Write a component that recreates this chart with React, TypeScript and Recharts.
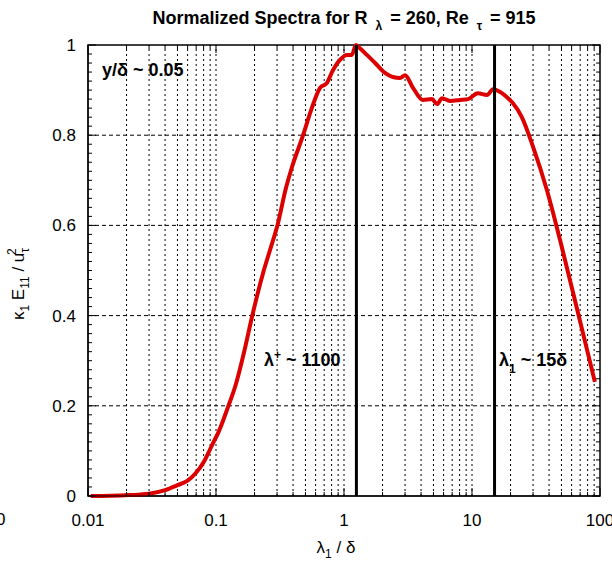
import { LineChart, Line, XAxis, YAxis, ReferenceLine, ReferenceArea } from 'recharts';

// wavelength lambda_1 / delta
const lambdaX = [
  0.0105, 0.015, 0.021, 0.03, 0.04, 0.05, 0.06, 0.069, 0.08, 0.087, 0.095, 0.104, 0.124, 0.142,
  0.166, 0.191, 0.233, 0.264, 0.305, 0.35, 0.393, 0.479, 0.56, 0.65, 0.736, 0.806, 0.93, 1.055,
  1.15, 1.24, 1.29, 1.51, 1.75, 2.09, 2.41, 2.74, 3.0, 3.46, 4.14, 4.87, 5.33, 5.83, 6.73, 8.06,
  9.31, 11.1, 13.1, 14.6, 16.6, 19.8, 20.9, 24.5, 30.0, 38.5, 48.7, 61.7, 91.2
];

// normalized premultiplied spectrum k1 E11 / u_tau^2
const spectrum = [
  0.0, 0.0005, 0.002, 0.005, 0.013, 0.024, 0.034, 0.05, 0.075, 0.095, 0.118, 0.14, 0.197, 0.245,
  0.32, 0.397, 0.494, 0.545, 0.605, 0.68, 0.73, 0.8, 0.86, 0.905, 0.916, 0.94, 0.967, 0.978,
  0.978, 1.0, 0.996, 0.978, 0.96, 0.938, 0.929, 0.927, 0.933, 0.905, 0.878, 0.88, 0.869, 0.882,
  0.876, 0.878, 0.88, 0.893, 0.889, 0.902, 0.896, 0.878, 0.871, 0.84, 0.774, 0.678, 0.568, 0.45,
  0.253
];

const xTicks = [0.01, 0.1, 1, 10, 100];
const xMinorTicks = [
  0.02, 0.03, 0.04, 0.05, 0.06, 0.07, 0.08, 0.09,
  0.2, 0.3, 0.4, 0.5, 0.6, 0.7, 0.8, 0.9,
  2, 3, 4, 5, 6, 7, 8, 9,
  20, 30, 40, 50, 60, 70, 80, 90
];
const yTicks = [0, 0.2, 0.4, 0.6, 0.8, 1];
const yMinorTicks = Array.from({ length: 51 }, (_, i) => +(i * 0.02).toFixed(2));
const markers = [1.25, 15];

const data = lambdaX.map((x, i) => ({ x, e: spectrum[i] }));

const FONT = '"Liberation Sans", Arial, sans-serif';
const PLOT_H = 451;
const PLOT_W = 512;
const X_MARGIN = 18;
const Y_MARGIN = 12;

// bottom axis tick: label for decades, inward tick marks at bottom and top of the frame
function XTick(props: any) {
  const { x, y, payload } = props;
  const v = payload.value;
  const major = xTicks.includes(v);
  const len = major ? 8 : 4;
  const axisY = y - X_MARGIN;
  return (
    <g>
      <line x1={x} x2={x} y1={axisY} y2={axisY - len} stroke="#000" />
      <line x1={x} x2={x} y1={axisY - PLOT_H} y2={axisY - PLOT_H + len} stroke="#000" />
      {major && (
        <text x={x} y={y} dy="0.71em" textAnchor="middle" fill="#000" fontSize={17} fontFamily={FONT}>
          {String(v)}
        </text>
      )}
    </g>
  );
}

// left axis tick: label at major values, inward marks on both sides
function YTick(props: any) {
  const { x, y, payload } = props;
  const v = payload.value;
  const major = yTicks.includes(v);
  const len = major ? 8 : 4;
  const axisX = x + Y_MARGIN;
  return (
    <g>
      <line x1={axisX} x2={axisX + len} y1={y} y2={y} stroke="#000" />
      <line x1={axisX + PLOT_W} x2={axisX + PLOT_W - len} y1={y} y2={y} stroke="#000" />
      {major && (
        <text x={x} y={y} dy="0.355em" textAnchor="end" fill="#000" fontSize={17} fontFamily={FONT}>
          {String(v)}
        </text>
      )}
    </g>
  );
}

export default function App() {
  return (
    <div style={{ position: 'absolute', left: 0, top: 0, width: 612, height: 561, background: '#fff' }}>
      <LineChart
        width={612}
        height={561}
        data={data}
        margin={{ top: 45, right: 12, left: 28, bottom: 35 }}
      >
        <XAxis
          dataKey="x"
          type="number"
          scale="log"
          domain={[0.01, 100]}
          allowDataOverflow
          ticks={[...xTicks, ...xMinorTicks]}
          interval={0}
          height={30}
          stroke="#000"
          tickLine={false}
          tickSize={0}
          tickMargin={X_MARGIN}
          tick={<XTick />}
        />
        <YAxis
          type="number"
          domain={[0, 1]}
          ticks={yMinorTicks}
          interval={0}
          width={60}
          stroke="#000"
          tickLine={false}
          tickSize={0}
          tickMargin={Y_MARGIN}
          tick={<YTick />}
        />

        {yTicks.slice(1, -1).map((v) => (
          <ReferenceLine key={'h' + v} y={v} stroke="#000" strokeDasharray="4 3" strokeWidth={1} />
        ))}
        {[...xMinorTicks, 0.1, 1, 10].map((v) => (
          <ReferenceLine key={'v' + v} x={v} stroke="#000" strokeDasharray="2 3" strokeWidth={1} />
        ))}

        {/* frame */}
        <ReferenceArea x1={0.01} x2={100} y1={0} y2={1} ifOverflow="visible" fill="none" fillOpacity={0} stroke="#000" strokeWidth={1.5} />

        <Line
          dataKey="e"
          type="monotone"
          stroke="#dd0000"
          strokeWidth={4}
          dot={false}
          isAnimationActive={false}
        />

        {markers.map((v) => (
          <ReferenceLine key={'m' + v} x={v} stroke="#000" strokeWidth={3} />
        ))}
      </LineChart>

      <svg
        width={612}
        height={561}
        style={{ position: 'absolute', left: 0, top: 0, pointerEvents: 'none' }}
        fontFamily={FONT}
      >
        <text x={344} y={24} textAnchor="middle" fontSize={18} fontWeight="bold" fill="#000">
          Normalized Spectra for R
          <tspan dx={8} dy={6} fontSize={12}>λ</tspan>
          <tspan dx={8} dy={-6}>= 260, Re</tspan>
          <tspan dx={8} dy={6} fontSize={12}>τ</tspan>
          <tspan dx={8} dy={-6}>= 915</tspan>
        </text>

        <text x={102} y={76} fontSize={18} fontWeight="bold" fill="#000">y/δ ~ 0.05</text>

        <text x={264} y={366} fontSize={18} fontWeight="bold" fill="#000">
          λ<tspan dy={-7} fontSize={12}>+</tspan>
          <tspan dy={7}> ~ 1100</tspan>
        </text>

        <text x={499} y={366} fontSize={18} fontWeight="bold" fill="#000">
          λ<tspan dy={7} fontSize={12}>1</tspan>
          <tspan dy={-7}> ~ 15δ</tspan>
        </text>

        <text x={-4} y={525} fontSize={17} fill="#000">0</text>

        <text x={336} y={553} textAnchor="middle" fontSize={17} fill="#000">
          λ<tspan dy={5} fontSize={12}>1</tspan>
          <tspan dy={-5}> / δ</tspan>
        </text>

        <text transform="translate(24,284) rotate(-90)" textAnchor="middle" fontSize={17} fill="#000">
          κ<tspan dy={5} fontSize={12}>1</tspan>
          <tspan dy={-5}> E</tspan>
          <tspan dy={5} fontSize={12}>11</tspan>
          <tspan dy={-5}> / u</tspan>
          <tspan dy={5} fontSize={12}>τ</tspan>
          <tspan dx={-7} dy={-13} fontSize={12}>2</tspan>
        </text>
      </svg>
    </div>
  );
}
